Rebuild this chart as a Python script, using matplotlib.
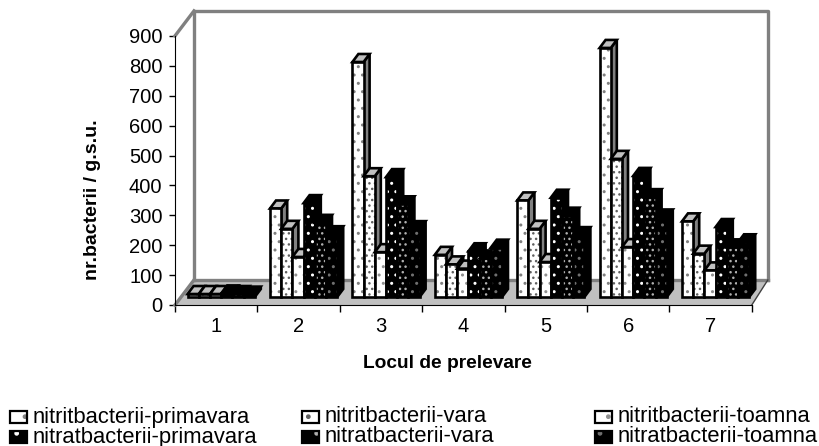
import numpy as np
import matplotlib
matplotlib.use('Agg')
import matplotlib.pyplot as plt
from matplotlib.patches import Rectangle

plt.rcParams['font.family'] = ['Liberation Sans', 'DejaVu Sans']

locuri = [1, 2, 3, 4, 5, 6, 7]
nitrit_primavara = [10, 296, 786, 141, 323, 833, 253]
nitrit_vara = [10, 228, 404, 109, 228, 462, 145]
nitrit_toamna = [10, 134, 150, 95, 117, 167, 89]
nitrat_primavara = [12, 314, 401, 153, 332, 405, 234]
nitrat_vara = [10, 248, 310, 129, 272, 334, 166]
nitrat_toamna = [8, 210, 227, 165, 207, 266, 183]
y_ticks = [0, 100, 200, 300, 400, 500, 600, 700, 800, 900]

# (values, label, face, dots, side, top, hatch)
serii = [
    (nitrit_primavara, 'nitritbacterii-primavara', 'white', '#808080', '#808080', '#c0c0c0', '..'),
    (nitrit_vara, 'nitritbacterii-vara', 'white', '#606060', '#808080', '#c0c0c0', '...'),
    (nitrit_toamna, 'nitritbacterii-toamna', 'white', '#909090', '#808080', '#c0c0c0', '..'),
    (nitrat_primavara, 'nitratbacterii-primavara', 'black', 'white', 'black', 'black', '..'),
    (nitrat_vara, 'nitratbacterii-vara', 'black', '#b0b0b0', 'black', 'black', '...'),
    (nitrat_toamna, 'nitratbacterii-toamna', 'black', '#707070', 'black', 'black', '..'),
]

W, H = 820, 446
px_x = 82.4     # pixels per category
px_y = 0.299    # pixels per count
left, right, bottom, top = 175, 775, 305, 13

plt.rcParams['hatch.linewidth'] = 1.0
fig = plt.figure(figsize=(W / 100, H / 100), dpi=100)
ax = fig.add_axes([left / W, 1 - bottom / H, (right - left) / W, (bottom - top) / H])
ax.set_xlim(0.5, 0.5 + (right - left) / px_x)
ax.set_ylim(0, (bottom - top) / px_y)
ax.patch.set_visible(False)

# walls and floor (right side is a bit narrower in the original perspective)
wx, wxr, wy = 19 / px_x, 16 / px_x, 25 / px_y
x0, x1 = 0.5, 7.5
ax.fill([x0, x1, x1 + wxr, x0 + wx], [0, 0, wy, wy], color='#c0c0c0', lw=0, zorder=1)
gri = dict(color='#808080', lw=2.4, zorder=2, clip_on=False, solid_capstyle='projecting')
ax.plot([x0 + wx, x0 + wx, x1 + wxr, x1 + wxr], [wy, 900 + wy, 900 + wy, wy], **gri)
ax.plot([x0 + wx, x1 + wxr], [wy, wy], **gri)
ax.plot([x0, x0 + wx], [900, 900 + wy], **gri)
ax.plot([x0, x0 + wx], [0, wy], **gri)
ax.plot([x1, x1 + wxr], [0, wy], color='#404040', lw=1, zorder=2)

# bars
bw = 11.2 / px_x
dx, dy = 6 / px_x, 8 / px_y
lw = 1.9
centers = np.array(locuri) + 5 / px_x
for k, (vals, label, face, dots, side, topc, hatch) in enumerate(serii):
    z = 10 + k
    xs = centers + (k - 2.5) * bw
    for xi, v in zip(xs, vals):
        xa, xb = xi - bw / 2, xi + bw / 2
        ya, yb = dy, dy + v
        # side and top first, front face over them
        ax.fill([xb, xb + dx, xb + dx, xb], [ya, ya + dy, yb + dy, yb], facecolor=side,
                edgecolor='black', lw=lw, zorder=z, joinstyle='miter')
        ax.fill([xa, xb, xb + dx, xa + dx], [yb, yb, yb + dy, yb + dy], facecolor=topc,
                edgecolor='black', lw=lw, zorder=z, joinstyle='miter')
    ax.bar(xs, vals, bw, bottom=dy, color=face, edgecolor=dots, hatch=hatch, lw=0, zorder=z + 0.1)
    ax.bar(xs, vals, bw, bottom=dy, fill=False, edgecolor='black', lw=lw, zorder=z + 0.2)

# axes
for s in ['top', 'right']:
    ax.spines[s].set_visible(False)
ax.spines['left'].set_bounds(0, 900)
ax.spines['bottom'].set_bounds(x0, x1)
ax.spines['left'].set_zorder(3)
ax.spines['bottom'].set_zorder(3)
ax.set_yticks(y_ticks)
ax.set_xticks(np.arange(0.5, 8, 1))
ax.set_xticklabels([])
ax.set_xticks(locuri, minor=True)
ax.set_xticklabels(locuri, minor=True)
ax.tick_params(axis='x', which='minor', length=0, labelsize=14.5, pad=9)
ax.tick_params(axis='x', which='major', length=5, width=1)
ax.tick_params(axis='y', length=4, width=1, labelsize=14.5, pad=5)

fig.text(447 / W, 1 - 363 / H, 'Locul de prelevare', fontsize=13.8, fontweight='bold', ha='center', va='center')
fig.text(93 / W, 1 - 200 / H, 'nr.bacterii / g.s.u.', fontsize=14, fontweight='bold',
         rotation=90, ha='center', va='center')

# legend
col_x = [10, 302, 595]
row_y = [417, 437]
for k, (vals, label, face, dots, side, topc, hatch) in enumerate(serii):
    cx = col_x[k % 3]
    cy = row_y[k // 3]
    pos = (cx / W, 1 - (cy + 6) / H)
    fig.add_artist(Rectangle(pos, 17 / W, 12 / H, transform=fig.transFigure,
                             facecolor=face, edgecolor=dots, hatch='.', lw=0))
    fig.add_artist(Rectangle(pos, 17 / W, 12 / H, transform=fig.transFigure,
                             fill=False, edgecolor='black', lw=1.6))
    fig.text((cx + 23) / W, 1 - cy / H, label, fontsize=15.8, ha='left', va='center')

fig.savefig('out.png', dpi=100)
